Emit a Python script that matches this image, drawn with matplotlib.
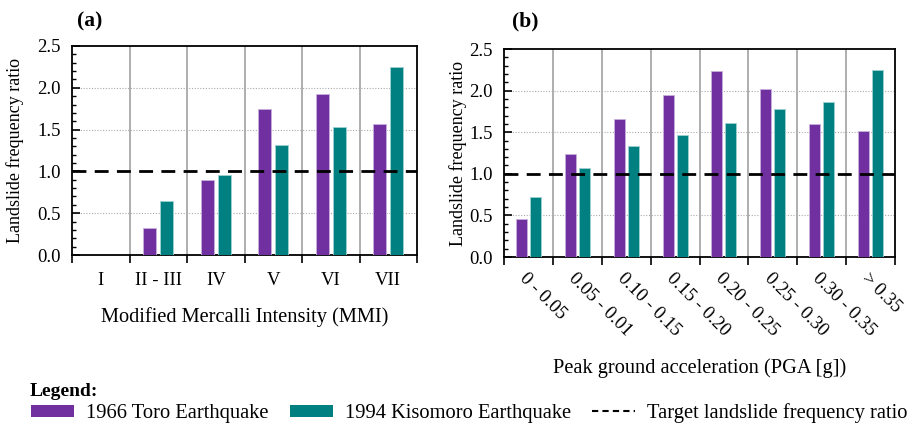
import matplotlib
matplotlib.use('Agg')
import matplotlib.pyplot as plt
from matplotlib.patches import Patch
from matplotlib.lines import Line2D
from matplotlib.ticker import MultipleLocator, FixedLocator, FormatStrFormatter
import numpy as np

plt.rcParams['font.family'] = ['Liberation Serif', 'DejaVu Serif']

# panel (a) - MMI
mmi_labels = ['I', 'II - III', 'IV', 'V', 'VI', 'VII']
mmi_toro = [0.0, 0.32, 0.90, 1.75, 1.93, 1.57]
mmi_kisomoro = [0.0, 0.65, 0.96, 1.31, 1.53, 2.25]

# panel (b) - PGA
pga_labels = ['0 - 0.05', '0.05 - 0.01', '0.10 - 0.15', '0.15 - 0.20',
              '0.20 - 0.25', '0.25 - 0.30', '0.30 - 0.35', '> 0.35']
pga_toro = [0.46, 1.24, 1.66, 1.95, 2.23, 2.02, 1.60, 1.52]
pga_kisomoro = [0.72, 1.07, 1.33, 1.47, 1.61, 1.78, 1.86, 2.25]

target_ratio = 1.0

PURPLE = '#7030A0'
TEAL = '#008080'
TICK_FS = 13.5
LABEL_FS = 14.7
YLABEL_FS = 13
W, H = 916, 426


def px_axes(fig, left, top, right, bottom):
    return fig.add_axes([left / W, 1 - bottom / H,
                         (right - left) / W, (bottom - top) / H])


def draw_panel(ax, labels, toro, kisomoro, width, offset):
    n = len(labels)
    x = np.arange(n)
    ax.bar(x - offset, toro, width, color=PURPLE, edgecolor='#c8b0dc',
           linewidth=0.6, zorder=3)
    ax.bar(x + offset, kisomoro, width, color=TEAL, edgecolor='#a0d0d0',
           linewidth=0.6, zorder=3)
    ax.axhline(target_ratio, color='black', linestyle=(0, (5, 3)),
               linewidth=2, zorder=4)

    ax.set_xlim(-0.5, n - 0.5)
    ax.set_ylim(0, 2.5)

    # category boundaries: ticks + vertical grid
    bounds = np.arange(n + 1) - 0.5
    ax.xaxis.set_major_locator(FixedLocator(bounds))
    ax.set_xticklabels([])
    ax.tick_params(axis='x', which='major', direction='out', length=6,
                   width=1.2)
    for b in bounds[1:-1]:
        ax.axvline(b, color='#999999', linewidth=1.1, zorder=1)

    # labels at centres via minor ticks
    ax.xaxis.set_minor_locator(FixedLocator(x))
    ax.tick_params(axis='x', which='minor', length=0, labelsize=TICK_FS,
                   pad=12)

    ax.yaxis.set_major_locator(MultipleLocator(0.5))
    ax.yaxis.set_minor_locator(MultipleLocator(0.1))
    ax.yaxis.set_major_formatter(FormatStrFormatter('%.1f'))
    ax.tick_params(axis='y', which='major', direction='in', length=6,
                   width=1.2, labelsize=TICK_FS, pad=8)
    ax.tick_params(axis='y', which='minor', direction='in', length=3,
                   width=1)
    for v in [0.5, 1.5, 2.0]:
        ax.axhline(v, color='#aaaaaa', linestyle=(0, (1, 1.5)),
                   linewidth=0.8, zorder=1)
    for s in ax.spines.values():
        s.set_linewidth(1.3)
    ax.set_ylabel('Landslide frequency ratio', fontsize=YLABEL_FS)


fig = plt.figure(figsize=(W / 100, H / 100), dpi=100)

ax_a = px_axes(fig, 72, 46, 417, 255)
draw_panel(ax_a, mmi_labels, mmi_toro, mmi_kisomoro, 0.225, 0.148)
ax_a.set_xticklabels(mmi_labels, minor=True)
ax_a.set_xlabel('Modified Mercalli Intensity (MMI)', fontsize=LABEL_FS,
                labelpad=13)
ax_a.yaxis.set_label_coords(-0.139, 0.5)
fig.text(77 / W, 1 - 21 / H, '(a)', fontsize=15.5, fontweight='bold',
         va='center')

ax_b = px_axes(fig, 504, 49, 895, 257)
draw_panel(ax_b, pga_labels, pga_toro, pga_kisomoro, 0.225, 0.142)
ax_b.set_xticklabels(pga_labels, minor=True, rotation=-45, ha='left',
                     va='top', rotation_mode='anchor')
ax_b.tick_params(axis='x', which='minor', pad=9)
ax_b.set_xlabel('Peak ground acceleration (PGA [g])', fontsize=LABEL_FS,
                labelpad=14)
ax_b.yaxis.set_label_coords(-0.095, 0.5)
fig.text(512 / W, 1 - 21 / H, '(b)', fontsize=15.5, fontweight='bold',
         va='center')

# legend
fig.text(30 / W, 1 - 392 / H, 'Legend:', fontsize=14, fontweight='bold',
         va='center')
handles = [Patch(facecolor=PURPLE, edgecolor='none'),
           Patch(facecolor=TEAL, edgecolor='none'),
           Line2D([], [], color='black', linestyle=(0, (3, 2)),
                  linewidth=1.5)]
fig.legend(handles, ['1966 Toro Earthquake', '1994 Kisomoro Earthquake',
                     'Target landslide frequency ratio'],
           loc='center left', bbox_to_anchor=(31 / W, 1 - 413 / H),
           ncol=3, frameon=False, fontsize=14.8, handlelength=2.1,
           handleheight=0.5, handletextpad=0.6, columnspacing=1.0,
           borderaxespad=0, borderpad=0)

fig.savefig('out.png', dpi=100)
